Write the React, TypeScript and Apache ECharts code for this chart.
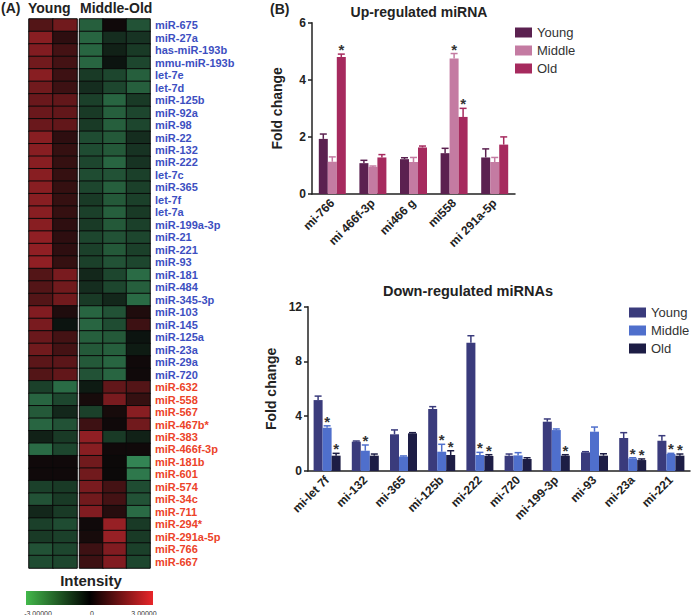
import React, { useEffect, useRef } from 'react';
import * as echarts from 'echarts';

const FONT = 'Arial, "Liberation Sans", Helvetica, sans-serif';

// ---------- Panel A: heatmap ----------
const heatLabels = [
  'miR-675', 'miR-27a', 'has-miR-193b', 'mmu-miR-193b', 'let-7e', 'let-7d', 'miR-125b', 'miR-92a', 'miR-98',
  'miR-22', 'miR-132', 'miR-222', 'let-7c', 'miR-365', 'let-7f', 'let-7a', 'miR-199a-3p', 'miR-21', 'miR-221',
  'miR-93', 'miR-181', 'miR-484', 'miR-345-3p', 'miR-103', 'miR-145', 'miR-125a', 'miR-23a', 'miR-29a', 'miR-720',
  'miR-632', 'miR-558', 'miR-567', 'miR-467b*', 'miR-383', 'miR-466f-3p', 'miR-181b', 'miR-601', 'miR-574',
  'miR-34c', 'miR-711', 'miR-294*', 'miR-291a-5p', 'miR-766', 'miR-667',
];
const downRegulatedCount = 29; // first rows are blue labels, the rest red

const youngCol1 = [1.0, 1.7, 1.6, 1.4, 1.7, 1.4, 1.3, 1.3, 1.3, 1.7, 1.7, 1.7, 1.7, 1.7, 1.7, 1.7, 1.7, 1.8, 1.8, 1.8, 1.0, 1.0, 1.0, 1.6, 1.5, 1.3, 1.4, 1.1, 1.0, -0.9, -1.5, -1.3, -1.5, -0.4, -1.6, 0.1, 0.1, -0.9, -1.2, -0.5, -0.9, -0.8, -1.2, -1.1];
const youngCol2 = [1.4, 0.5, 0.8, 0.8, 0.7, 0.7, 1.2, 1.2, 1.2, 0.5, 0.6, 0.6, 0.6, 0.6, 0.6, 0.6, 0.5, 0.5, 0.5, 0.6, 1.5, 1.4, 1.4, 0.3, -0.2, 0.8, 0.8, 1.1, 1.2, -1.6, -1.0, -0.5, -1.2, -0.8, -1.0, 0.1, 0.1, -0.8, -0.8, -0.8, -1.1, -0.9, -1.0, -1.0];
const midOldCol1 = [-1.4, -1.5, -1.5, -1.5, -0.8, -0.6, -0.9, -0.8, -0.8, -1.1, -1.1, -1.0, -1.1, -1.0, -0.8, -0.9, -0.8, -1.0, -0.9, -0.9, -0.5, -0.6, -0.8, -1.5, -1.5, -1.4, -1.3, -1.3, -1.2, -0.3, 0.2, -0.9, 0.7, 1.8, 1.7, 1.4, 1.4, 1.5, 1.4, 1.6, 0.1, 0.2, 0.7, 0.7];
const midOldCol2 = [0.1, -0.6, -0.4, -0.2, -1.0, -1.0, -1.5, -1.4, -1.4, -1.3, -1.3, -1.5, -1.2, -1.4, -1.3, -1.4, -1.3, -1.2, -1.3, -1.2, -1.0, -1.0, -0.5, -1.2, -1.1, -1.3, -1.4, -1.5, -1.5, 1.2, 1.5, 0.2, 0.1, -0.8, 0.1, 0.05, 0.05, 0.8, 0.8, 0.4, 1.9, 1.9, 1.6, 1.6];
const midOldCol3 = [-1.2, -0.7, -0.8, -1.0, -1.4, -1.4, -0.8, -1.0, -1.0, -0.6, -0.7, -0.7, -0.9, -0.9, -0.9, -0.8, -0.9, -1.0, -0.9, -1.0, -1.6, -1.4, -1.6, 0.3, 0.7, -0.2, -0.3, 0.1, 0.1, 1.0, 0.6, 1.7, 1.4, -0.4, 0.1, -2.0, -1.8, -1.1, -1.2, -1.6, -0.8, -0.8, -0.9, -1.0];

// ---------- Panel B: up-regulated ----------
const seriesNames = ['Young', 'Middle', 'Old'];
const upCategories = ['mi-766', 'mi 466f-3p', 'mi466 g', 'mi558', 'mi 291a-5p'];
const upYoung = [1.93, 1.08, 1.22, 1.43, 1.28];
const upYoungErr = [2.1, 1.18, 1.27, 1.6, 1.58];
const upMiddle = [1.13, 0.95, 1.12, 4.75, 1.12];
const upMiddleErr = [1.3, 0.98, 1.28, 4.92, 1.28];
const upOld = [4.8, 1.28, 1.63, 2.7, 1.73];
const upOldErr = [4.9, 1.38, 1.68, 3.0, 2.0];
const upStarYoung = [0, 0, 0, 0, 0];
const upStarMiddle = [0, 0, 0, 1, 0];
const upStarOld = [1, 0, 0, 1, 0];
const upTicks = [0, 6, 2];

// ---------- Panel B: down-regulated ----------
const downCategories = ['mi-let 7f', 'mi-132', 'mi-365', 'mi-125b', 'mi-222', 'mi-720', 'mi-199-3p', 'mi-93', 'mi-23a', 'mi-221'];
const downYoung = [5.18, 2.14, 2.68, 4.53, 9.37, 1.12, 3.6, 1.36, 2.41, 2.21];
const downYoungErr = [5.47, 2.19, 3.0, 4.7, 9.88, 1.24, 3.8, 1.41, 2.8, 2.58];
const downMiddle = [3.16, 1.48, 1.05, 1.41, 1.17, 1.14, 2.99, 2.87, 0.92, 1.24];
const downMiddleErr = [3.3, 1.9, 1.1, 1.95, 1.36, 1.34, 3.07, 3.21, 0.97, 1.29];
const downOld = [1.12, 1.12, 2.75, 1.17, 1.1, 0.88, 1.12, 1.12, 0.8, 1.12];
const downOldErr = [1.29, 1.24, 2.8, 1.48, 1.19, 0.97, 1.19, 1.26, 0.88, 1.24];
const downStarYoung = [0, 0, 0, 0, 0, 0, 0, 0, 0, 0];
const downStarMiddle = [1, 1, 0, 1, 1, 0, 0, 0, 1, 1];
const downStarOld = [1, 0, 0, 1, 1, 0, 1, 0, 1, 1];
const downTicks = [0, 12, 4];

const upColors = ['#5b2150', '#c47ba2', '#a62a5e'];
const downColors = ['#3a3b7c', '#4f6fcc', '#1d1d45'];
const BAR_W = 9;

function heatData(cols: number[][]) {
  const out: number[][] = [];
  cols.forEach((col, ci) => col.forEach((v, ri) => out.push([ci, ri, v])));
  return out;
}

function barSeries(name: string, axis: number, data: number[], color: string) {
  return {
    type: 'bar', name, xAxisIndex: axis, yAxisIndex: axis, data,
    barWidth: BAR_W, barGap: '0%', itemStyle: { color }, silent: true,
  };
}

function errSeries(name: string, axis: number, vals: number[], errs: number[], stars: number[], slot: number, color: string) {
  return {
    type: 'custom', name, xAxisIndex: axis, yAxisIndex: axis, silent: true, z: 5, clip: false,
    encode: { x: 0, y: [1, 2] },
    data: vals.map((v, i) => [i, v, errs[i], stars[i]]),
    renderItem: (_p: any, api: any) => {
      const top = api.coord([api.value(0), api.value(2)]);
      const base = api.coord([api.value(0), api.value(1)]);
      const cx = top[0] + (slot - 1) * BAR_W;
      const ls = { stroke: color, lineWidth: 1.5 };
      const children: any[] = [
        { type: 'line', shape: { x1: cx, y1: base[1], x2: cx, y2: top[1] }, style: ls },
        { type: 'line', shape: { x1: cx - 3.5, y1: top[1], x2: cx + 3.5, y2: top[1] }, style: ls },
      ];
      if (api.value(3)) {
        children.push({
          type: 'text', x: cx, y: top[1] + 3,
          style: { text: '*', fontSize: 15, fontWeight: 'bold', fontFamily: FONT, fill: '#333', align: 'center', verticalAlign: 'bottom' },
        });
      }
      return { type: 'group', children };
    },
  };
}

const axisLineStyle = { color: '#222', width: 1.5 };

function valueAxis(grid: number, ticks: number[], nameGap: number) {
  return {
    type: 'value', gridIndex: grid, min: ticks[0], max: ticks[1], interval: ticks[2],
    name: 'Fold change', nameLocation: 'middle', nameGap,
    nameTextStyle: { fontFamily: FONT, fontWeight: 'bold', fontSize: 14, color: '#222' },
    axisLine: { show: true, lineStyle: axisLineStyle },
    axisTick: { show: true, length: 4, lineStyle: axisLineStyle },
    axisLabel: { fontFamily: FONT, fontWeight: 'bold', fontSize: 12, color: '#222', margin: 6 },
    splitLine: { show: false },
  };
}

function catAxis(grid: number, data: string[]) {
  return {
    type: 'category', gridIndex: grid, data,
    axisLine: { lineStyle: axisLineStyle },
    axisTick: { alignWithLabel: true, length: 4, lineStyle: axisLineStyle },
    axisLabel: { rotate: 45, interval: 0, fontFamily: FONT, fontWeight: 'bold', fontSize: 12, color: '#222', margin: 7 },
  };
}

function legend(left: number, top: number, colors: string[]) {
  return {
    left, top, orient: 'vertical', itemWidth: 17, itemHeight: 10, itemGap: 5, icon: 'rect',
    selectedMode: false,
    textStyle: { fontFamily: FONT, fontSize: 13, color: '#333' },
    data: seriesNames.map((n, i) => ({ name: n, itemStyle: { color: colors[i] } })),
  };
}

function txt(text: string, x: number, y: number, size: number, align = 'left', weight = 'bold', fill = '#222') {
  return {
    type: 'text', x, y, silent: true,
    style: { text, fontSize: size, fontWeight: weight, fontFamily: FONT, fill, align, verticalAlign: 'middle' },
  };
}

export default function App() {
  const ref = useRef<HTMLDivElement>(null);
  useEffect(() => {
    if (!ref.current) return;
    const chart = echarts.init(ref.current, null, { renderer: 'svg' });
    const option: any = {
      animation: false,
      backgroundColor: '#ffffff',
      grid: [
        { left: 29, top: 19, width: 48, height: 549 },
        { left: 79.5, top: 19, width: 70.5, height: 549 },
        { left: 312, top: 22.7, width: 203, height: 171.3 },
        { left: 308, top: 306.7, width: 382, height: 164.3 },
      ],
      xAxis: [
        { type: 'category', gridIndex: 0, data: ['Y1', 'Y2'], show: false },
        { type: 'category', gridIndex: 1, data: ['MO1', 'MO2', 'MO3'], show: false },
        catAxis(2, upCategories),
        catAxis(3, downCategories),
      ],
      yAxis: [
        { type: 'category', gridIndex: 0, data: heatLabels, inverse: true, show: false },
        {
          type: 'category', gridIndex: 1, data: heatLabels, inverse: true, position: 'right',
          axisLine: { show: false }, axisTick: { show: false },
          axisLabel: {
            interval: 0, margin: 5, fontFamily: FONT, fontWeight: 'bold', fontSize: 11, lineHeight: 11,
            color: (_v: any, idx: number) => (idx < downRegulatedCount ? '#3d4fc1' : '#ec4329'),
          },
        },
        valueAxis(2, upTicks, 28),
        valueAxis(3, downTicks, 25),
      ],
      visualMap: {
        type: 'continuous', min: -3, max: 3, show: false, seriesIndex: [0, 1],
        inRange: { color: ['#48c27a', '#080808', '#ea2e36'] },
      },
      legend: [legend(510, 21, upColors), legend(624, 301, downColors)],
      series: [
        { type: 'heatmap', xAxisIndex: 0, yAxisIndex: 0, data: heatData([youngCol1, youngCol2]), silent: true, itemStyle: { borderColor: '#0a0a0a', borderWidth: 1 } },
        { type: 'heatmap', xAxisIndex: 1, yAxisIndex: 1, data: heatData([midOldCol1, midOldCol2, midOldCol3]), silent: true, itemStyle: { borderColor: '#0a0a0a', borderWidth: 1 } },
        barSeries('Young', 2, upYoung, upColors[0]),
        barSeries('Middle', 2, upMiddle, upColors[1]),
        barSeries('Old', 2, upOld, upColors[2]),
        errSeries('Young', 2, upYoung, upYoungErr, upStarYoung, 0, upColors[0]),
        errSeries('Middle', 2, upMiddle, upMiddleErr, upStarMiddle, 1, upColors[1]),
        errSeries('Old', 2, upOld, upOldErr, upStarOld, 2, upColors[2]),
        barSeries('Young', 3, downYoung, downColors[0]),
        barSeries('Middle', 3, downMiddle, downColors[1]),
        barSeries('Old', 3, downOld, downColors[2]),
        errSeries('Young', 3, downYoung, downYoungErr, downStarYoung, 0, downColors[0]),
        errSeries('Middle', 3, downMiddle, downMiddleErr, downStarMiddle, 1, downColors[1]),
        errSeries('Old', 3, downOld, downOldErr, downStarOld, 2, downColors[2]),
      ],
      graphic: [
        txt('(A)', 1, 8, 14),
        txt('Young', 28, 8, 14),
        txt('Middle-Old', 80, 8, 14),
        txt('(B)', 270, 9, 14),
        txt('Up-regulated miRNA', 419, 12, 14, 'center'),
        txt('Down-regulated miRNAs', 468, 291, 14.5, 'center'),
        txt('Intensity', 91, 580, 15, 'center'),
        {
          type: 'rect', silent: true, shape: { x: 26, y: 591, width: 127, height: 14 },
          style: {
            fill: new echarts.graphic.LinearGradient(0, 0, 1, 0, [
              { offset: 0, color: '#42b84a' },
              { offset: 0.5, color: '#000000' },
              { offset: 1, color: '#e8262a' },
            ]),
          },
        },
        txt('-3.00000', 38, 613, 7, 'center', 'normal', '#333'),
        txt('0', 92, 613, 7, 'center', 'normal', '#333'),
        txt('3.00000', 144, 613, 7, 'center', 'normal', '#333'),
      ],
    };
    chart.setOption(option);
    return () => chart.dispose();
  }, []);
  return <div ref={ref} style={{ position: 'absolute', left: 0, top: 0, width: 691, height: 615 }} />;
}
